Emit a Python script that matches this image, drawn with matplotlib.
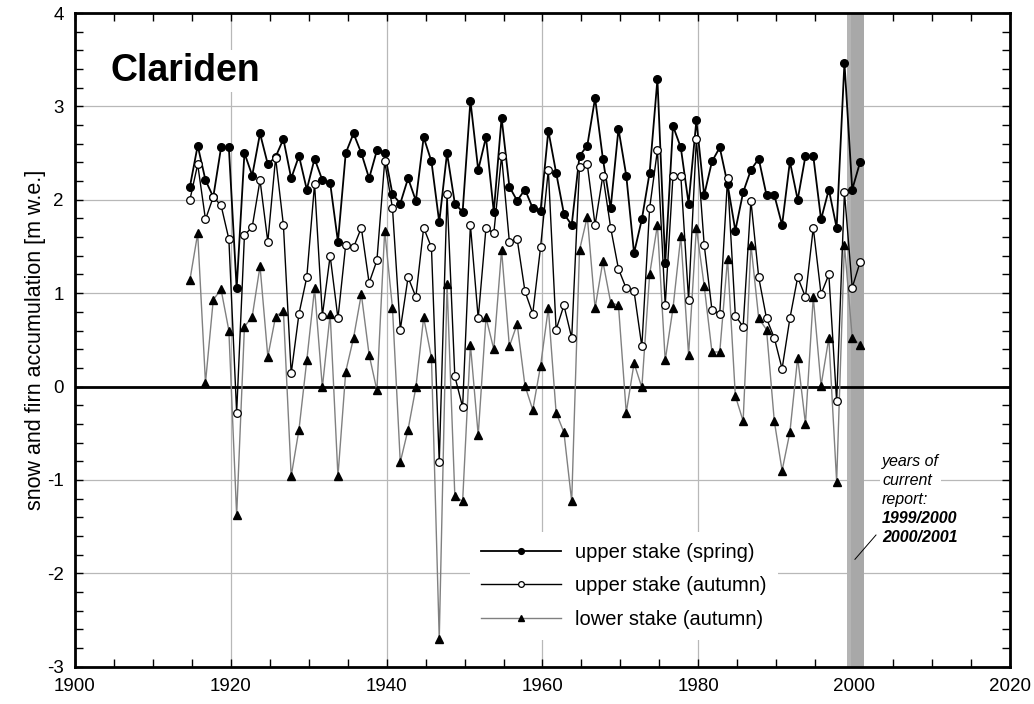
import numpy as np
import matplotlib
matplotlib.use("Agg")
import matplotlib.pyplot as plt
from matplotlib.ticker import MultipleLocator

plt.rcParams['font.family'] = ['Liberation Sans', 'DejaVu Sans']
plt.rcParams['axes.unicode_minus'] = False

# hydrological years 1914/15 ... 2000/01 (value plotted at end year)
years = np.arange(1915, 2002)
X_OFFSET = -0.25

upper_spring = [
    2.14, 2.58, 2.21, 2.03, 2.56, 2.56, 1.05, 2.50, 2.26, 2.71,
    2.38, 2.46, 2.65, 2.23, 2.47, 2.11, 2.44, 2.21, 2.18, 1.55,
    2.50, 2.71, 2.50, 2.23, 2.53, 2.50, 2.06, 1.96, 2.23, 1.99,
    2.67, 2.41, 1.76, 2.50, 1.96, 1.87, 3.06, 2.32, 2.67, 1.87,
    2.88, 2.14, 1.99, 2.11, 1.91, 1.88, 2.74, 2.29, 1.85, 1.73,
    2.47, 2.58, 3.09, 2.44, 1.91, 2.76, 2.26, 1.43, 1.79, 2.29,
    3.29, 1.32, 2.79, 2.56, 1.96, 2.85, 2.05, 2.41, 2.56, 2.17,
    1.67, 2.08, 2.32, 2.44, 2.05, 2.05, 1.73, 2.41, 2.00, 2.47,
    2.47, 1.79, 2.11, 1.70, 3.47, 2.11, 2.40,
]

upper_autumn = [
    2.00, 2.38, 1.79, 2.03, 1.94, 1.58, -0.28, 1.62, 1.71, 2.21,
    1.55, 2.45, 1.73, 0.14, 0.78, 1.17, 2.17, 0.76, 1.40, 0.73,
    1.52, 1.49, 1.70, 1.11, 1.35, 2.41, 1.91, 0.61, 1.17, 0.96,
    1.70, 1.49, -0.81, 2.06, 0.11, -0.22, 1.73, 0.73, 1.70, 1.64,
    2.47, 1.55, 1.58, 1.02, 0.78, 1.49, 2.32, 0.61, 0.87, 0.52,
    2.35, 2.38, 1.73, 2.26, 1.70, 1.26, 1.05, 1.02, 0.43, 1.91,
    2.53, 0.87, 2.26, 2.26, 0.93, 2.65, 1.52, 0.82, 0.78, 2.23,
    0.76, 0.64, 1.99, 1.17, 0.73, 0.52, 0.19, 0.73, 1.17, 0.96,
    1.70, 0.99, 1.20, -0.16, 2.08, 1.06, 1.33,
]

lower_autumn = [
    1.14, 1.64, 0.04, 0.93, 1.04, 0.60, -1.38, 0.64, 0.75, 1.29,
    0.32, 0.75, 0.81, -0.96, -0.46, 0.28, 1.05, -0.01, 0.78, -0.96,
    0.16, 0.52, 0.99, 0.34, -0.04, 1.67, 0.84, -0.81, -0.46, -0.01,
    0.74, 0.31, -2.70, 1.10, -1.17, -1.23, 0.45, -0.52, 0.74, 0.40,
    1.46, 0.43, 0.67, 0.01, -0.25, 0.22, 0.84, -0.28, -0.49, -1.23,
    1.46, 1.82, 0.84, 1.34, 0.90, 0.87, -0.28, 0.25, -0.01, 1.20,
    1.73, 0.28, 0.84, 1.61, 0.34, 1.70, 1.08, 0.37, 0.37, 1.37,
    -0.10, -0.37, 1.52, 0.73, 0.61, -0.37, -0.90, -0.49, 0.31, -0.40,
    0.96, 0.01, 0.52, -1.02, 1.52, 0.52, 0.45,
]

report_span = (1999.05, 2001.25)

x = years + X_OFFSET

fig = plt.figure(figsize=(10.34, 7.04), dpi=100)
ax = fig.add_axes([0.0725, 0.053, 0.9043, 0.9285])

# grey band for the years of the current report
ax.axvspan(report_span[0], report_span[1], color='#a8a8a8', lw=0, zorder=1)
ax.axvspan(report_span[0], report_span[0] + 0.55, color='#b4b4b4', lw=0, zorder=1.1)

ax.axhline(0, color='black', lw=2, zorder=2)

ax.plot(x, lower_autumn, color='#808080', lw=1.0, marker='^', ms=6,
        mfc='black', mec='black', label='lower stake (autumn)', zorder=3)
ax.plot(x, upper_spring, color='black', lw=1.3, marker='o', ms=5.5,
        mfc='black', mec='black', label='upper stake (spring)', zorder=4)
ax.plot(x, upper_autumn, color='black', lw=1.0, marker='o', ms=5.5,
        mfc='white', mec='black', mew=0.9, label='upper stake (autumn)', zorder=5)

ax.set_xlim(1900, 2020)
ax.set_ylim(-3, 4)
ax.xaxis.set_major_locator(MultipleLocator(20))
ax.xaxis.set_minor_locator(MultipleLocator(5))
ax.yaxis.set_major_locator(MultipleLocator(1))
ax.yaxis.set_minor_locator(MultipleLocator(0.2))
ax.grid(True, which='major', color='#b8b8b8', lw=0.9, zorder=0)
ax.set_axisbelow(True)

ax.tick_params(which='both', direction='in', top=True, right=True,
               length=6, width=1, labelsize=13.5, pad=8)
for s in ax.spines.values():
    s.set_linewidth(2)

ax.set_ylabel('snow and firn accumulation [m w.e.]', fontsize=15.5, labelpad=1)

ax.text(1904.5, 3.38, 'Clariden', fontsize=27, fontweight='bold',
        va='center', ha='left',
        bbox=dict(fc='white', ec='none', pad=2), zorder=6)

# legend in the order of the original
h, l = ax.get_legend_handles_labels()
order = [1, 2, 0]
leg = ax.legend([h[i] for i in order], [l[i] for i in order],
                loc='lower left', bbox_to_anchor=(0.422, 0.041),
                fontsize=14.5, handlelength=4.0, markerscale=0.75,
                frameon=True, fancybox=False, framealpha=1,
                edgecolor='none', facecolor='white', labelspacing=0.72,
                borderpad=0.55, handletextpad=0.7, borderaxespad=0)
leg.set_zorder(7)

# annotation
ax.text(2003.6, -0.72, 'years of\ncurrent\nreport:', fontsize=11.5,
        style='italic', va='top', ha='left', linespacing=1.35,
        bbox=dict(fc='white', ec='none', pad=1.5), zorder=6)
ax.text(2003.6, -1.33, '1999/2000\n2000/2001', fontsize=11.5,
        style='italic', fontweight='bold', va='top', ha='left',
        linespacing=1.35, bbox=dict(fc='white', ec='none', pad=1.5), zorder=6)
ax.plot([2002.8, 2000.1], [-1.59, -1.85], color='black', lw=0.7, zorder=6)

fig.savefig('out.png', dpi=100)
